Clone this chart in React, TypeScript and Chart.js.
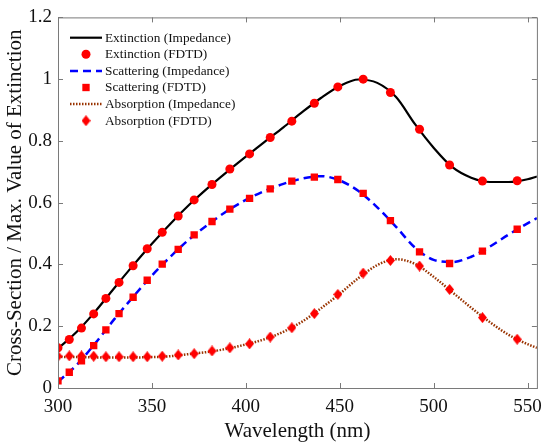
import { useEffect, useRef } from 'react';
import { Chart, registerables } from 'chart.js';
import { drawPoint } from 'chart.js/helpers';

Chart.register(...registerables);

// FDTD sample wavelengths (nm) and normalised cross-sections
const fdtdWavelengths = [300, 306, 312.5, 319, 325.5, 332.5, 340, 347.5, 355.5, 364, 372.5, 382, 391.5, 402, 413, 424.5, 436.5, 449, 462.5, 477, 492.5, 508.5, 526, 544.5];
const extinctionFdtd = [0.13, 0.157, 0.194, 0.24, 0.29, 0.342, 0.396, 0.451, 0.504, 0.557, 0.609, 0.659, 0.709, 0.758, 0.811, 0.864, 0.922, 0.975, 1.0, 0.957, 0.838, 0.722, 0.67, 0.671];
const scatteringFdtd = [0.023, 0.051, 0.088, 0.137, 0.188, 0.241, 0.294, 0.349, 0.401, 0.449, 0.496, 0.539, 0.579, 0.614, 0.645, 0.67, 0.683, 0.675, 0.63, 0.542, 0.441, 0.403, 0.443, 0.514];
const absorptionFdtd = [0.103, 0.104, 0.104, 0.103, 0.101, 0.101, 0.101, 0.101, 0.103, 0.107, 0.111, 0.12, 0.13, 0.143, 0.165, 0.195, 0.241, 0.303, 0.372, 0.413, 0.395, 0.319, 0.228, 0.158];

// impedance model curves
const modelWavelengths = [300, 310, 320, 330, 340, 350, 360, 370, 380, 390, 400, 410, 420, 430, 440, 450, 460, 470, 480, 490, 500, 510, 520, 530, 540, 550, 555];
const extinctionModel = [0.128, 0.182, 0.249, 0.324, 0.397, 0.467, 0.533, 0.594, 0.649, 0.7, 0.749, 0.797, 0.844, 0.893, 0.939, 0.978, 0.999, 0.988, 0.942, 0.855, 0.778, 0.715, 0.681, 0.667, 0.667, 0.676, 0.685];
const scatteringModel = [0.02, 0.075, 0.146, 0.223, 0.295, 0.364, 0.426, 0.482, 0.53, 0.573, 0.609, 0.638, 0.661, 0.678, 0.686, 0.672, 0.638, 0.585, 0.522, 0.455, 0.415, 0.408, 0.425, 0.458, 0.497, 0.533, 0.55];
const absorptionModel = [0.101, 0.1, 0.099, 0.099, 0.099, 0.1, 0.103, 0.11, 0.117, 0.127, 0.141, 0.158, 0.182, 0.215, 0.258, 0.305, 0.356, 0.398, 0.417, 0.402, 0.36, 0.31, 0.26, 0.213, 0.172, 0.142, 0.13];

const xTicks = [300, 350, 400, 450, 500, 550];
const yTicks = [0, 0.2, 0.4, 0.6, 0.8, 1, 1.2];
const yTickLabels = ['0', '0.2', '0.4', '0.6', '0.8', '1', '1.2'];

const FONT = "'Liberation Serif', 'Times New Roman', serif";
const AXIS_GRAY = '#7a7a7a';

const toPoints = (xs: number[], ys: number[]) => xs.map((x, i) => ({ x, y: ys[i] }));

function makeDiamond(w: number, h: number, color: string) {
    const c = document.createElement('canvas');
    c.width = w;
    c.height = h;
    const g = c.getContext('2d')!;
    g.fillStyle = color;
    g.beginPath();
    g.moveTo(w / 2, 0);
    g.lineTo(w, h / 2);
    g.lineTo(w / 2, h);
    g.lineTo(0, h / 2);
    g.closePath();
    g.fill();
    return c;
}

// box around the plot with ticks pointing inwards on all four sides
const framePlugin = {
    id: 'frame',
    afterDraw(chart: any) {
        const { ctx, chartArea: a, scales } = chart;
        const len = 5;
        ctx.save();
        ctx.strokeStyle = AXIS_GRAY;
        ctx.lineWidth = 1;
        ctx.strokeRect(a.left + 0.5, a.top + 0.5, a.right - a.left, a.bottom - a.top);
        ctx.beginPath();
        xTicks.forEach((v) => {
            const x = Math.round(scales.x.getPixelForValue(v)) + 0.5;
            ctx.moveTo(x, a.bottom);
            ctx.lineTo(x, a.bottom - len);
            ctx.moveTo(x, a.top);
            ctx.lineTo(x, a.top + len);
        });
        yTicks.forEach((v) => {
            const y = Math.round(scales.y.getPixelForValue(v)) + 0.5;
            ctx.moveTo(a.left, y);
            ctx.lineTo(a.left + len, y);
            ctx.moveTo(a.right, y);
            ctx.lineTo(a.right - len, y);
        });
        ctx.stroke();
        ctx.restore();
    },
};

// legend in the top-left corner of the plot
const legendPlugin = {
    id: 'insideLegend',
    afterDraw(chart: any) {
        const ctx = chart.ctx;
        const top = 37.7;
        const row = 16.6;
        ctx.save();
        ctx.font = `13.3px ${FONT}`;
        ctx.textBaseline = 'middle';
        chart.data.datasets.forEach((ds: any, i: number) => {
            const y = top + i * row;
            if (ds.showLine) {
                ctx.strokeStyle = ds.borderColor;
                ctx.lineWidth = ds.borderWidth;
                ctx.setLineDash(ds.borderDash || []);
                ctx.beginPath();
                ctx.moveTo(70, y);
                ctx.lineTo(102, y);
                ctx.stroke();
                ctx.setLineDash([]);
            } else {
                ctx.fillStyle = ds.pointBackgroundColor;
                ctx.strokeStyle = ds.pointBackgroundColor;
                drawPoint(ctx, { pointStyle: ds.pointStyle, radius: ds.pointRadius, rotation: 0, borderWidth: 0 }, 86, y);
            }
            ctx.fillStyle = '#111';
            ctx.fillText(ds.label, 105, y + 0.5);
        });
        ctx.restore();
    },
};

export default function App() {
    const canvasRef = useRef<HTMLCanvasElement>(null);

    useEffect(() => {
        document.body.style.margin = '0';
        const canvas = canvasRef.current;
        const ctx = canvas?.getContext('2d');
        if (!ctx) return;

        const diamond = makeDiamond(9, 11, '#ff0000');

        const chart = new Chart(ctx, {
            type: 'scatter',
            data: {
                datasets: [
                    {
                        label: 'Extinction (Impedance)',
                        data: toPoints(modelWavelengths, extinctionModel),
                        showLine: true,
                        borderColor: '#000000',
                        borderWidth: 2.2,
                        pointRadius: 0,
                        cubicInterpolationMode: 'monotone',
                        order: 2,
                    },
                    {
                        label: 'Extinction (FDTD)',
                        data: toPoints(fdtdWavelengths, extinctionFdtd),
                        showLine: false,
                        pointStyle: 'circle',
                        pointRadius: 4.5,
                        pointBackgroundColor: '#ff0000',
                        pointBorderWidth: 0,
                        order: 0,
                    },
                    {
                        label: 'Scattering (Impedance)',
                        data: toPoints(modelWavelengths, scatteringModel),
                        showLine: true,
                        borderColor: '#0000ff',
                        borderWidth: 2.5,
                        borderDash: [8, 5],
                        pointRadius: 0,
                        cubicInterpolationMode: 'monotone',
                        order: 2,
                    },
                    {
                        label: 'Scattering (FDTD)',
                        data: toPoints(fdtdWavelengths, scatteringFdtd),
                        showLine: false,
                        pointStyle: 'rect',
                        pointRadius: 5.2,
                        pointBackgroundColor: '#ff0000',
                        pointBorderWidth: 0,
                        order: 0,
                    },
                    {
                        label: 'Absorption (Impedance)',
                        data: toPoints(modelWavelengths, absorptionModel),
                        showLine: true,
                        borderColor: '#993300',
                        borderWidth: 2.5,
                        borderDash: [1.5, 1.5],
                        pointRadius: 0,
                        cubicInterpolationMode: 'monotone',
                        order: 2,
                    },
                    {
                        label: 'Absorption (FDTD)',
                        data: toPoints(fdtdWavelengths, absorptionFdtd),
                        showLine: false,
                        pointStyle: diamond,
                        pointRadius: 5,
                        pointBackgroundColor: '#ff0000',
                        pointBorderWidth: 0,
                        order: 0,
                    },
                ],
            },
            options: {
                animation: false,
                responsive: false,
                devicePixelRatio: 1,
                layout: { padding: { top: 12, right: 12, left: 0, bottom: 0 } },
                plugins: {
                    legend: { display: false },
                    tooltip: { enabled: false },
                },
                scales: {
                    x: {
                        type: 'linear',
                        min: 300,
                        max: 555,
                        afterBuildTicks: (s: any) => { s.ticks = xTicks.map((value) => ({ value })); },
                        afterFit: (s: any) => { s.height = 59; },
                        grid: { display: false, drawTicks: false },
                        border: { display: false },
                        ticks: { color: '#111', padding: 8, font: { family: FONT, size: 19 } },
                        title: {
                            display: true,
                            text: 'Wavelength (nm)',
                            color: '#111',
                            font: { family: FONT, size: 21 },
                            padding: { top: 0, bottom: 3 },
                        },
                    },
                    y: {
                        type: 'linear',
                        min: 0,
                        max: 1.2,
                        afterBuildTicks: (s: any) => { s.ticks = yTicks.map((value) => ({ value })); },
                        afterFit: (s: any) => { s.width = 58; },
                        grid: { display: false, drawTicks: false },
                        border: { display: false },
                        ticks: {
                            color: '#111',
                            padding: 6,
                            font: { family: FONT, size: 19 },
                            callback: (value: any) => {
                                const i = yTicks.findIndex((t) => Math.abs(t - Number(value)) < 1e-9);
                                return i >= 0 ? yTickLabels[i] : '';
                            },
                        },
                        title: {
                            display: true,
                            text: 'Cross-Section / Max. Value of Extinction',
                            color: '#111',
                            font: { family: FONT, size: 21 },
                            padding: { top: 3, bottom: 0 },
                        },
                    },
                },
            },
            plugins: [framePlugin, legendPlugin],
        } as any);

        return () => {
            chart.destroy();
        };
    }, []);

    return (
        <div style={{ width: 550, height: 447 }}>
            <canvas ref={canvasRef} width={550} height={447} style={{ width: 550, height: 447, display: 'block' }} />
        </div>
    );
}
